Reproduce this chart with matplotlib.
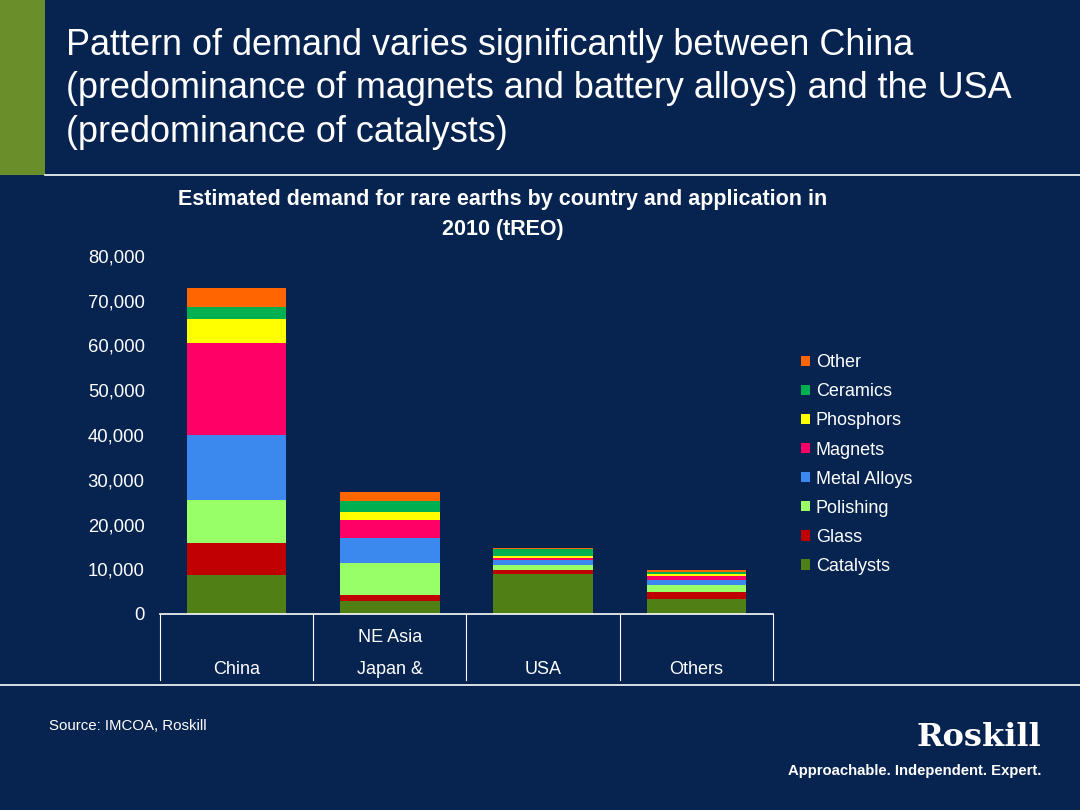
import matplotlib.pyplot as plt
from matplotlib.patches import Rectangle, Patch
from matplotlib.lines import Line2D
import matplotlib.transforms as mtransforms
import numpy as np

plt.rcParams['font.family'] = ['Liberation Sans', 'DejaVu Sans']

# data, tREO
countries = ['China', 'Japan &\nNE Asia', 'USA', 'Others']
applications = ['Catalysts', 'Glass', 'Polishing', 'Metal Alloys',
                'Magnets', 'Phosphors', 'Ceramics', 'Other']
catalysts = [8800, 2900, 8870, 3350]
glass = [7150, 1350, 960, 1630]
polishing = [9550, 7210, 1190, 1570]
metal_alloys = [14525, 5460, 980, 1110]
magnets = [20630, 4090, 510, 890]
phosphors = [5290, 1850, 450, 450]
ceramics = [2750, 2460, 1500, 450]
other = [4110, 2010, 360, 450]
series = [catalysts, glass, polishing, metal_alloys, magnets, phosphors,
          ceramics, other]
colors = ['#4f7f15', '#c00000', '#99ff66', '#3b88ee', '#ff0066', '#ffff00',
          '#00b050', '#ff6600']
yticks = [0, 10000, 20000, 30000, 40000, 50000, 60000, 70000, 80000]

bg = '#072451'
W, H = 1080, 810
fig = plt.figure(figsize=(10.8, 8.1), dpi=100)
fig.patch.set_facecolor(bg)

# header decoration
fig.add_artist(Rectangle((0, 1 - 175 / H), 45 / W, 175 / H,
                         transform=fig.transFigure, color='#6a8e2a', lw=0))
fig.add_artist(Line2D([45 / W, 1], [1 - 175 / H] * 2, transform=fig.transFigure,
                      color='white', lw=1.2))
fig.add_artist(Line2D([0, 1], [1 - 685 / H] * 2, transform=fig.transFigure,
                      color='white', lw=1.2))
fig.text(66 / W, 1 - 89 / H,
         'Pattern of demand varies significantly between China\n'
         '(predominance of magnets and battery alloys) and the USA\n'
         '(predominance of catalysts)',
         color='white', fontsize=25.9, va='center', ha='left', linespacing=1.3)

ax = fig.add_axes([160 / W, 1 - 614 / H, 613 / W, 358 / H])
ax.set_facecolor(bg)
x = np.arange(len(countries))
bottom = np.zeros(len(countries))
handles = []
for name, vals, c in zip(applications, series, colors):
    ax.bar(x, vals, 0.65, bottom=bottom, color=c, lw=0)
    bottom += np.array(vals)
    handles.append(Patch(facecolor=c, label=name))

ax.set_xlim(-0.5, len(countries) - 0.5)
ax.set_ylim(0, 80000)
ax.set_yticks(yticks)
ax.set_yticklabels([f'{v:,}' for v in yticks], color='white', fontsize=13.3)
ax.tick_params(axis='y', length=0, pad=11)
ax.set_xticks([])
for s in ['top', 'right', 'left']:
    ax.spines[s].set_visible(False)
ax.spines['bottom'].set_color('white')
ax.spines['bottom'].set_linewidth(1.2)

# category separators and labels below the axis
trans = mtransforms.blended_transform_factory(ax.transData, ax.transAxes)
for b in np.arange(-0.5, len(countries)):
    ax.add_line(Line2D([b, b], [0, -66 / 358], transform=trans, color='white',
                       lw=0.8, clip_on=False))
for i, lab in enumerate(countries):
    parts = lab.split('\n')
    ax.text(i, -55 / 358, parts[0], transform=trans, ha='center', va='center',
            color='white', fontsize=13)
    if len(parts) > 1:
        ax.text(i, -23 / 358, parts[1], transform=trans, ha='center',
                va='center', color='white', fontsize=13)

fig.text(503 / W, 1 - 214.5 / H,
         'Estimated demand for rare earths by country and application in\n2010 (tREO)',
         color='white', fontsize=15.5, fontweight='bold', ha='center',
         va='center', linespacing=1.5)

leg = fig.legend(handles=handles[::-1], loc='upper left',
                 bbox_to_anchor=(785 / W, 1 - 338 / H), frameon=False,
                 fontsize=13, labelcolor='white', handlelength=0.5,
                 handleheight=0.5, handletextpad=0.3, labelspacing=0.67)

# footer
fig.text(49 / W, 1 - 726 / H, 'Source: IMCOA, Roskill', color='white',
         fontsize=10.8, va='center')
fig.text(1041 / W, 1 - 737 / H, 'Roskill', color='white', fontsize=23,
         fontweight='bold', family='DejaVu Serif', ha='right', va='center')
fig.text(1041 / W, 1 - 771 / H, 'Approachable. Independent. Expert.',
         color='white', fontsize=10.7, fontweight='bold', ha='right',
         va='center')

fig.savefig('out.png', dpi=100, facecolor=bg)
